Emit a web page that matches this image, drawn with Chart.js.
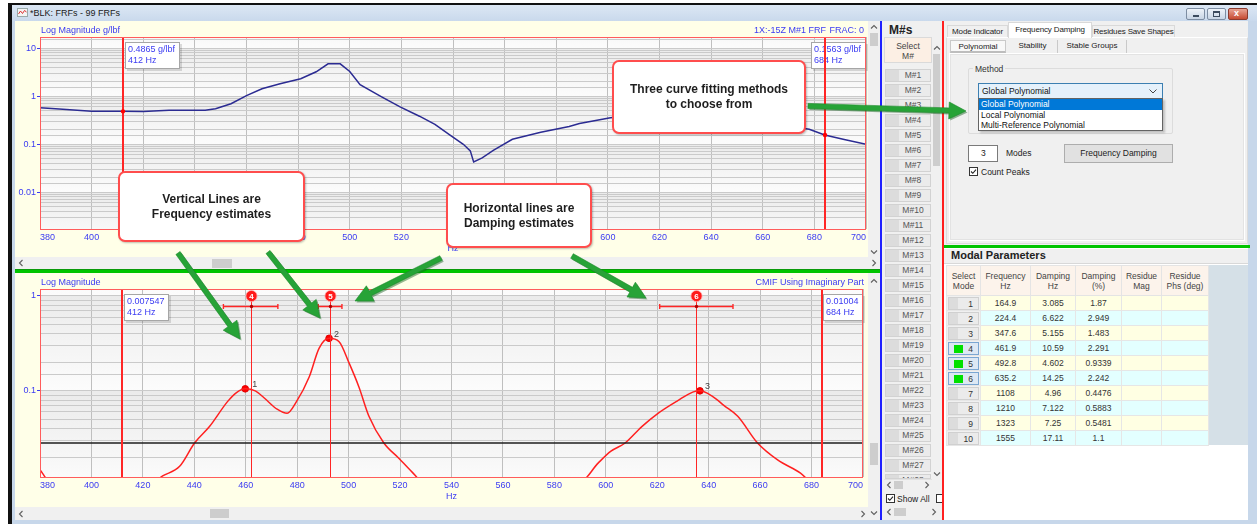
<!DOCTYPE html>
<html lang="en">
<head>
<meta charset="utf-8">
<title>*BLK: FRFs - 99 FRFs</title>
<script src="https://cdn.jsdelivr.net/npm/chart.js@4/dist/chart.umd.min.js"></script>
<style>
* { box-sizing: border-box; }
html, body { margin: 0; padding: 0; }
body { width: 1257px; height: 524px; overflow: hidden; position: relative; background: #fff;
  font-family: "Liberation Sans", Arial, sans-serif; font-size: 9px; color: #222; }
.abs { position: absolute; }
.chev { position: absolute; width: 8px; height: 8px; line-height: 0; }
.thumb { position: absolute; background: #cdcdcd; }
.sbar { position: absolute; background: #f0f0f0; }
.mbtn { position: absolute; left: 885px; width: 46px; height: 13px; border: 1px solid #d2d2d2;
  background: linear-gradient(to right, #dcdcdc 0, #dcdcdc 30%, #ebebeb 30%, #ebebeb 100%);
  color: #555; font-size: 8.5px; line-height: 11px; text-align: center; padding-left: 10px; }
.tab { position: absolute; top: 25px; height: 12px; font-size: 8px; line-height: 11px; color: #222; white-space: nowrap;
  border: 1px solid #d9d9d9; border-bottom: none; background: #f0f0f0; text-align: center; letter-spacing: -0.15px; }
.tab.sel { top: 22px; height: 16px; background: #fff; line-height: 14px; }
.sub { position: absolute; top: 40px; height: 13px; font-size: 8px; line-height: 12px; color: #222; text-align: center; white-space: nowrap; }
.callout { position: absolute; background: #fff; border: 2px solid #ff4d4d; border-radius: 7px;
  display: flex; align-items: center; justify-content: center; text-align: center;
  font: bold 12px "Liberation Sans", Arial, sans-serif; color: #1e1e1e; line-height: 15px;
  box-shadow: 1px 1px 2px rgba(0,0,0,0.25); z-index: 20; }
#modal { position: absolute; left: 946px; top: 265px; border-collapse: collapse; table-layout: fixed;
  font-size: 8.5px; color: #333; z-index: 2; }
#modal th { height: 30px; background: #fcf3eb; border: 1px solid #e4e4e4; font-weight: normal;
  color: #444; line-height: 10px; padding: 0; }
#modal td { height: 15px; border: 1px solid #e6e6e6; text-align: center; padding: 0; line-height: 13px; }
#modal tr.od td { background: #ffffe3; }
#modal tr.ev td { background: #e3ffff; }
#modal td.selc { background: #f0f0f0 !important; padding: 0 1px; }
.sb { position: relative; height: 13px; border: 1px solid #d0d0d0; text-align: right; padding-right: 5px;
  background: linear-gradient(to right, #dcdcdc 0, #dcdcdc 30%, #ebebeb 30%, #ebebeb 100%); }
.sb.on { border-color: #7aa6d2; background: #dde8f4; }
.sb i { position: absolute; left: 5px; top: 2px; width: 9px; height: 8px; background: #00e000; }
#arrows { position: absolute; left: 0; top: 0; z-index: 30; pointer-events: none; }
</style>
</head>
<body>

<!-- window frame and title bar -->
<div class="abs" style="left:8px;top:3px;width:4px;height:521px;background:#111"></div>
<div class="abs" style="left:8px;top:3px;width:1249px;height:2px;background:#111"></div>
<div class="abs" style="left:12px;top:5px;width:1245px;height:16px;background:linear-gradient(#dce7f4,#c9d9ec)"></div>
<div class="abs" id="winIcon" style="left:17px;top:8px"></div>
<div class="abs" style="left:30px;top:8px;font-size:9px;color:#1b1b1b">*BLK: FRFs - 99 FRFs</div>
<div class="abs" style="left:1186px;top:8px;width:19px;height:12px;border:1px solid #7d8da2;border-radius:2px;background:linear-gradient(#eef3f9,#c8d5e5)"><div class="abs" style="left:6px;top:6px;width:6px;height:2px;background:#3c4b5e"></div></div>
<div class="abs" style="left:1207px;top:8px;width:19px;height:12px;border:1px solid #7d8da2;border-radius:2px;background:linear-gradient(#eef3f9,#c8d5e5)"><div class="abs" style="left:5px;top:2px;width:7px;height:6px;border:1px solid #3c4b5e;border-top-width:2px"></div></div>
<div class="abs" style="left:1228px;top:8px;width:20px;height:12px;border:1px solid #8a3a2e;border-radius:2px;background:linear-gradient(#e9a393,#c64a32)"><div class="abs" style="left:5px;top:-1px;color:#fff;font:bold 9px Arial, sans-serif">x</div></div>
<div class="abs" style="left:12px;top:21px;width:3px;height:503px;background:#c7d7ea"></div>
<div class="abs" style="left:1248px;top:21px;width:9px;height:503px;background:#c7d7ea"></div>
<div class="abs" style="left:12px;top:520px;width:1245px;height:4px;background:#c7d7ea"></div>

<!-- upper graph: FRF -->
<div class="abs" style="left:15px;top:21px;width:853px;height:236px;background:#ffffe8">
  <canvas id="frfChart" width="853" height="236"></canvas>
</div>
<div class="sbar" style="left:15px;top:257px;width:853px;height:12px"></div>
<div class="thumb" style="left:212px;top:259px;width:20px;height:9px"></div>
<div class="chev" data-chev="left" style="left:17px;top:259px"></div>
<div class="sbar" style="left:868px;top:21px;width:12px;height:248px"></div>
<div class="thumb" style="left:870px;top:33px;width:8px;height:13px"></div>
<div class="chev" data-chev="up" style="left:870px;top:23px"></div>
<div class="chev" data-chev="down" style="left:870px;top:248px"></div>
<div class="chev" data-chev="right" style="left:870px;top:259px"></div>

<div class="abs" style="left:15px;top:269px;width:865px;height:4px;background:#00c400;border-top:1px solid #0a9a0a"></div>

<!-- lower graph: CMIF -->
<div class="abs" style="left:15px;top:273px;width:853px;height:234px;background:#ffffe8">
  <canvas id="cmifChart" width="853" height="234"></canvas>
</div>
<div class="sbar" style="left:15px;top:507px;width:853px;height:13px"></div>
<div class="thumb" style="left:210px;top:509px;width:19px;height:9px"></div>
<div class="chev" data-chev="left" style="left:17px;top:510px"></div>
<div class="chev" data-chev="right" style="left:859px;top:510px"></div>
<div class="sbar" style="left:868px;top:273px;width:12px;height:247px"></div>
<div class="thumb" style="left:870px;top:443px;width:8px;height:22px"></div>
<div class="chev" data-chev="up" style="left:870px;top:277px"></div>
<div class="chev" data-chev="down" style="left:870px;top:509px"></div>

<!-- M# list -->
<div class="abs" style="left:880px;top:21px;width:2px;height:499px;background:#2020ff"></div>
<div class="abs" style="left:882px;top:21px;width:60px;height:499px;background:#f0f0f0"></div>
<div class="abs" style="left:889px;top:23px;font:bold 12px 'Liberation Sans', Arial, sans-serif;color:#222">M#s</div>
<div class="abs" style="left:884px;top:37px;width:48px;height:26px;background:#fcefe4;border:1px solid #dadada;text-align:center;font-size:8.5px;line-height:10px;color:#444;padding-top:3px">Select<br>M#</div>
<div class="abs" style="left:932px;top:37px;width:9px;height:443px;background:#f0f0f0"></div>
<div class="thumb" style="left:933px;top:54px;width:7px;height:112px"></div>
<div class="chev" data-chev="up" style="left:933px;top:44px"></div>
<div class="chev" data-chev="down" style="left:933px;top:470px"></div>
<div id="mlist"></div>
<div class="abs" style="left:884px;top:479px;width:48px;height:12px;background:#f0f0f0;border-top:1px solid #e2e2e2"></div>
<div class="thumb" style="left:894px;top:481px;width:9px;height:8px"></div>
<div class="chev" data-chev="left" style="left:885px;top:481px"></div>
<div class="chev" data-chev="right" style="left:923px;top:481px"></div>
<div class="abs" id="cbShow" style="left:886px;top:494px"></div>
<div class="abs" style="left:897px;top:494px;font-size:8.5px;color:#222">Show All</div>
<div class="abs" style="left:936px;top:494px;width:6px;height:9px;border:1px solid #333;border-right:none;background:#fff"></div>
<div class="abs" style="left:884px;top:506px;width:56px;height:12px;background:#f0f0f0"></div>
<div class="thumb" style="left:894px;top:508px;width:12px;height:8px"></div>
<div class="chev" data-chev="left" style="left:885px;top:508px"></div>
<div class="chev" data-chev="right" style="left:930px;top:508px"></div>
<div class="abs" style="left:942px;top:21px;width:2px;height:499px;background:#ff2020"></div>

<!-- right panel: tabs and fitting controls -->
<div class="abs" style="left:944px;top:21px;width:304px;height:224px;background:#f0f0f0"></div>
<div class="abs" style="left:946px;top:37px;width:302px;height:207px;background:#f0f0f0;border:1px solid #dcdcdc;border-top-color:#fff"></div>
<div class="tab" style="left:947px;width:61px">Mode Indicator</div>
<div class="tab sel" style="left:1008px;width:84px">Frequency Damping</div>
<div class="tab" style="left:1092px;width:83px">Residues Save Shapes</div>
<div class="abs" style="left:949px;top:53px;width:296px;height:188px;background:#f0f0f0;border:1px solid #fff;box-shadow:inset 0 0 0 1px #e3e3e3"></div>
<div class="sub" style="left:950px;width:56px;background:#f8f8f8;border:1px solid #c9c9c9;border-bottom:2px solid #bdbdbd">Polynomial</div>
<div class="sub" style="left:1008px;width:50px;border-right:1px solid #c9c9c9">Stability</div>
<div class="sub" style="left:1058px;width:69px;border-right:1px solid #c9c9c9">Stable Groups</div>
<div class="abs" style="left:968px;top:68px;width:205px;height:66px;border:1px solid #dcdcdc;border-radius:2px"></div>
<div class="abs" style="left:973px;top:64px;padding:0 2px;background:#f0f0f0;font-size:8.5px;color:#333">Method</div>
<div class="abs" id="combo" style="left:978px;top:83px;width:185px;height:16px;background:#e5f1fb;border:1px solid #3c7fb1;font-size:8.5px;line-height:14px;padding-left:3px;color:#111"></div>
<div class="abs" id="methodList" style="left:978px;top:98px;width:185px;height:33px;background:#fff;border:1px solid #646464;font-size:8.5px;color:#111;box-shadow:2px 2px 2px rgba(0,0,0,0.2)"></div>
<div class="abs" style="left:968px;top:145px;width:30px;height:17px;background:#fff;border:1px solid #7a7a7a;font-size:8.5px;line-height:15px;padding-left:12px">3</div>
<div class="abs" style="left:1006px;top:148px;font-size:8.5px;color:#222">Modes</div>
<div class="abs" style="left:1064px;top:144px;width:109px;height:19px;background:#e1e1e1;border:1px solid #adadad;font-size:8.5px;line-height:17px;text-align:center;color:#222">Frequency Damping</div>
<div class="abs" id="cbPeaks" style="left:969px;top:167px"></div>
<div class="abs" style="left:981px;top:167px;font-size:8.5px;color:#222">Count Peaks</div>

<div class="abs" style="left:944px;top:245px;width:306px;height:3px;background:#00c400"></div>

<!-- modal parameters -->
<div class="abs" style="left:944px;top:248px;width:304px;height:272px;background:#fff"></div>
<div class="abs" style="left:944px;top:249px;width:304px;height:15px;background:#f0f0f0;border-bottom:1px solid #d8d8d8"></div>
<div class="abs" style="left:951px;top:249px;font:bold 11px 'Liberation Sans', Arial, sans-serif;color:#222">Modal Parameters</div>
<div class="abs" style="left:946px;top:265px;width:302px;height:180px;background:#d5e0e7"></div>
<table id="modal">
  <colgroup><col style="width:34px"><col style="width:50px"><col style="width:45px"><col style="width:46px"><col style="width:40px"><col style="width:47px"></colgroup>
  <thead><tr><th>Select<br>Mode</th><th>Frequency<br>Hz</th><th>Damping<br>Hz</th><th>Damping<br>(%)</th><th>Residue<br>Mag</th><th>Residue<br>Phs (deg)</th></tr></thead>
  <tbody id="modalBody"></tbody>
</table>

<!-- explanatory callouts -->
<div class="callout" style="left:612px;top:60px;width:194px;height:74px">Three curve fitting methods<br>to choose from</div>
<div class="callout" style="left:118px;top:171px;width:187px;height:71px">Vertical Lines are<br>Frequency estimates</div>
<div class="callout" style="left:446px;top:183px;width:146px;height:65px">Horizontal lines are<br>Damping estimates</div>
<svg id="arrows" width="1257" height="524" viewBox="0 0 1257 524"></svg>

<script>
// ---- FRF magnitude (upper graph), g/lbf ----
const frfHz  = [380, 386, 400, 412, 420, 430, 444, 448, 454, 460, 466, 473, 481, 487, 491.6, 496.3,
                500, 504, 512, 519.5, 527, 533, 539, 544, 546.7, 548, 551.3, 555.6, 563, 574, 585, 589,
                601, 612, 622, 630, 636, 642, 650, 660, 670, 678, 684, 692, 700];
const frfMag = [0.575, 0.55, 0.49, 0.4865, 0.48, 0.51, 0.51, 0.55, 0.70, 1.03, 1.44, 1.83, 2.32, 3.24, 4.75, 4.75,
                3.3, 1.75, 1.0, 0.60, 0.385, 0.26, 0.153, 0.1, 0.073, 0.043, 0.052, 0.075, 0.127, 0.178, 0.236, 0.27,
                0.357, 0.41, 0.46, 0.49, 0.48, 0.44, 0.36, 0.29, 0.24, 0.205, 0.1563, 0.125, 0.1];

// ---- CMIF using imaginary part (lower graph) ----
const cmifHz  = [380, 384, 424, 427.7, 434.3, 440.1, 445.9, 452.9, 456.4, 459.8, 463.7, 467.2, 472.2, 476.1,
                 479.6, 484.7, 488.5, 492.4, 496.3, 500.2, 504, 507.9, 513.7, 519.5, 524.6, 529, 590, 597, 602,
                 607.5, 614, 620.3, 628, 633.8, 636.6, 641.6, 646, 651.3, 659, 666.8, 675.7, 680, 700];
const cmifMag = [0.0147, 0.011, 0.011, 0.0127, 0.016, 0.0282, 0.042, 0.077, 0.096, 0.105, 0.1, 0.084, 0.064, 0.058,
                 0.076, 0.141, 0.281, 0.358, 0.33, 0.196, 0.11, 0.054, 0.0282, 0.0195, 0.014, 0.011, 0.011, 0.0173, 0.0231,
                 0.0282, 0.042, 0.058, 0.079, 0.097, 0.1, 0.087, 0.07, 0.054, 0.0282, 0.0187, 0.0136, 0.011, 0.011];
const peakHz  = [459.8, 492.4, 636.6];
const peakMag = [0.105, 0.358, 0.1];
const cmifThreshold = [0.0282, 0.0282];

// ---- cursors ----
const cursorHz = [412, 684];
const frfCursorMag  = [0.4865, 0.1563];
const cmifCursorMag = [0.007547, 0.01004];

// ---- axes ----
const hzRange = [380, 700];
const hzTicks = [380, 400, 420, 440, 460, 480, 500, 520, 540, 560, 580, 600, 620, 640, 660, 680, 700];
const frfRange = [0.00172, 17.2];
const frfTickValues = [10, 1, 0.1, 0.01];
const frfTickLabels = ['10', '1', '0.1', '0.01'];
const cmifRange = [0.01235, 1.185];
const cmifTickValues = [1, 0.1];
const cmifTickLabels = ['1', '0.1'];

// ---- modal parameters ----
const modeNo      = [1, 2, 3, 4, 5, 6, 7, 8, 9, 10];
const modeFreqHz  = [164.9, 224.4, 347.6, 461.9, 492.8, 635.2, 1108, 1210, 1323, 1555];
const modeDampHz  = [3.085, 6.622, 5.155, 10.59, 4.602, 14.25, 4.96, 7.122, 7.25, 17.11];
const modeDampPct = [1.87, 2.949, 1.483, 2.291, 0.9339, 2.242, 0.4476, 0.5883, 0.5481, 1.1];
const selectedModes = [4, 5, 6];
const fitMethods = ['Global Polynomial', 'Local Polynomial', 'Multi-Reference Polynomial'];
const shapeCount = 28;

const BLUE = '#3b3bf2';
const RED = '#ff2626';
const UI_FONT = '"Liberation Sans", Arial, sans-serif';

// ---------- small UI widgets ----------
function chev(dir) {
  const p = { up: '1,5.5 4,2.5 7,5.5', down: '1,2.5 4,5.5 7,2.5', left: '5.5,1 2.5,4 5.5,7', right: '2.5,1 5.5,4 2.5,7' }[dir];
  return `<svg width="8" height="8" viewBox="0 0 8 8"><polyline points="${p}" fill="none" stroke="#606060" stroke-width="1.1"/></svg>`;
}
document.querySelectorAll('[data-chev]').forEach(el => { el.innerHTML = chev(el.dataset.chev); });

function checkbox() {
  return '<svg width="9" height="9" viewBox="0 0 9 9"><rect x="0.5" y="0.5" width="8" height="8" fill="#fff" stroke="#333"/>' +
         '<polyline points="2,4.5 3.8,6.3 7,2.6" fill="none" stroke="#222" stroke-width="1.1"/></svg>';
}
document.getElementById('cbShow').innerHTML = checkbox();
document.getElementById('cbPeaks').innerHTML = checkbox();
document.getElementById('winIcon').innerHTML =
  '<svg width="11" height="9" viewBox="0 0 11 9"><rect x="0.5" y="0.5" width="10" height="8" fill="#f4f4f4" stroke="#9aa"/>' +
  '<polyline points="1.5,6 3.5,3 5.5,5.5 7.5,2.5 9.5,4" fill="none" stroke="#d33" stroke-width="1"/></svg>';

// M# shape buttons
const mlist = document.getElementById('mlist');
for (let i = 1; i <= shapeCount; i++) {
  const top = 69 + (i - 1) * 15;
  const b = document.createElement('div');
  b.className = 'mbtn';
  b.style.top = top + 'px';
  if (top + 13 > 479) { b.style.height = Math.max(0, 479 - top) + 'px'; b.style.overflow = 'hidden'; }
  b.textContent = 'M#' + i;
  mlist.appendChild(b);
}

// fitting method combo + open list
document.getElementById('combo').innerHTML = fitMethods[0] +
  '<svg style="position:absolute;right:5px;top:5px" width="8" height="5" viewBox="0 0 8 5"><polyline points="0.5,0.5 4,4 7.5,0.5" fill="none" stroke="#444"/></svg>';
document.getElementById('methodList').innerHTML = fitMethods.map((m, i) =>
  `<div style="height:10.5px;line-height:10px;padding-left:2px;${i === 0 ? 'background:#0078d7;color:#fff;' : ''}">${m}</div>`).join('');

// modal parameter rows
const tb = document.getElementById('modalBody');
modeNo.forEach((n, i) => {
  const tr = document.createElement('tr');
  tr.className = i % 2 ? 'ev' : 'od';
  const on = selectedModes.includes(n);
  tr.innerHTML = `<td class="selc"><div class="sb${on ? ' on' : ''}">${on ? '<i></i>' : ''}${n}</div></td>` +
    `<td>${modeFreqHz[i]}</td><td>${modeDampHz[i]}</td><td>${modeDampPct[i]}</td><td></td><td></td>`;
  tb.appendChild(tr);
});

// green pointer arrows
const arrows = [[808, 106, 966, 111], [178, 253, 240, 339], [268, 252, 320, 318], [441, 258, 355, 301], [572, 256, 646, 298]];
function arrowPath(x1, y1, x2, y2) {
  const dx = x2 - x1, dy = y2 - y1, L = Math.hypot(dx, dy), ux = dx / L, uy = dy / L, nx = -uy, ny = ux;
  const hl = 17, hw = 8.5, sw = 2.6;
  const bx = x2 - ux * hl, by = y2 - uy * hl;
  const pts = [[x1 + nx * sw, y1 + ny * sw], [bx + nx * sw, by + ny * sw], [bx + nx * hw, by + ny * hw], [x2, y2],
               [bx - nx * hw, by - ny * hw], [bx - nx * sw, by - ny * sw], [x1 - nx * sw, y1 - ny * sw]];
  return 'M' + pts.map(p => p[0].toFixed(1) + ',' + p[1].toFixed(1)).join('L') + 'Z';
}
document.getElementById('arrows').innerHTML = arrows.map(a => {
  const d = arrowPath(...a);
  return `<path d="${d}" fill="#145f1c" opacity="0.45" transform="translate(1.5,1.5)"/><path d="${d}" fill="#27a337" stroke="#1d8a2a" stroke-width="0.6"/>`;
}).join('');

// ---------- chart helpers ----------
function isTickValue(values, v) {
  return values.some(t => Math.abs(Math.log10(t) - Math.log10(v)) < 1e-6);
}
function tickLabel(values, labels) {
  return v => { const i = values.findIndex(t => Math.abs(Math.log10(t) - Math.log10(v)) < 1e-6); return i >= 0 ? labels[i] : ''; };
}
function pts(xs, ys) { return xs.map((x, i) => ({ x, y: ys[i] })); }

function axisOptions(yRange, tickValues, tickLabels, xHeight) {
  return {
    x: {
      type: 'linear', min: hzRange[0], max: hzRange[1],
      afterBuildTicks: s => { s.ticks = hzTicks.map(v => ({ value: v })); },
      ticks: { align: 'inner', color: BLUE, font: { family: UI_FONT, size: 9 }, padding: 3, maxRotation: 0, autoSkip: false },
      grid: { color: '#bfbfbf', lineWidth: 1, drawTicks: false },
      border: { display: false },
      afterFit: s => { s.height = xHeight; s.paddingLeft = 0; s.paddingRight = 0; }
    },
    y: {
      type: 'logarithmic', min: yRange[0], max: yRange[1],
      ticks: { callback: tickLabel(tickValues, tickLabels), autoSkip: false, color: BLUE, font: { family: UI_FONT, size: 9 }, padding: 1 },
      grid: { color: '#cacaca', lineWidth: 1, tickLength: 3,
              tickColor: c => (c.tick && isTickValue(tickValues, c.tick.value)) ? BLUE : 'rgba(0,0,0,0)' },
      border: { display: false },
      afterFit: s => { s.width = 25; s.paddingTop = 0; s.paddingBottom = 0; }
    }
  };
}

// shaded decade bands behind the grid
function drawBands(chart) {
  const { ctx, chartArea: a, scales: { y } } = chart;
  ctx.save();
  ctx.beginPath(); ctx.rect(a.left, a.top, a.width, a.height); ctx.clip();
  const lo = Math.floor(Math.log10(y.min)), hi = Math.ceil(Math.log10(y.max));
  for (let k = lo; k < hi; k++) {
    const yt = y.getPixelForValue(Math.pow(10, k + 1)), yb = y.getPixelForValue(Math.pow(10, k));
    const g = ctx.createLinearGradient(0, yt, 0, yb);
    g.addColorStop(0, '#ebebeb'); g.addColorStop(1, '#fcfcfc');
    ctx.fillStyle = g; ctx.fillRect(a.left, yt, a.width, yb - yt);
  }
  ctx.restore();
}

function drawFrame(chart, leftTitle, rightTitles) {
  const { ctx, chartArea: a } = chart;
  ctx.save();
  ctx.strokeStyle = '#ff5c5c'; ctx.lineWidth = 1;
  ctx.strokeRect(Math.round(a.left) + 0.5, Math.round(a.top) + 0.5, Math.round(a.width) - 1, Math.round(a.height));
  ctx.font = '9px ' + UI_FONT; ctx.fillStyle = BLUE; ctx.textBaseline = 'middle';
  ctx.textAlign = 'left'; ctx.fillText(leftTitle, a.left + 1, a.top - 6);
  ctx.textAlign = 'right';
  rightTitles.forEach(t => ctx.fillText(t[0], t[1], a.top - 6));
  ctx.textAlign = 'center'; ctx.fillText('Hz', (a.left + a.right) / 2, a.bottom + 20);
  ctx.restore();
}

function drawCursors(chart, mags, unit) {
  const { ctx, chartArea: a, scales: { x, y } } = chart;
  ctx.save();
  cursorHz.forEach((f, i) => {
    const px = Math.round(x.getPixelForValue(f));
    const l1 = String(mags[i]) + unit, l2 = f + ' Hz';
    ctx.font = '9px ' + UI_FONT;
    const w = Math.ceil(Math.max(ctx.measureText(l1).width, ctx.measureText(l2).width)) + 7;
    let bx = px + 2; if (bx + w > a.right) bx = Math.round(a.right - w);
    const by = Math.round(a.top) + 5, bh = 27;
    ctx.fillStyle = 'rgba(0,0,0,0.13)'; ctx.fillRect(bx + 2, by + 2, w, bh);
    ctx.fillStyle = '#fff'; ctx.fillRect(bx, by, w, bh);
    ctx.strokeStyle = '#a6a6a6'; ctx.lineWidth = 1; ctx.strokeRect(bx + 0.5, by + 0.5, w - 1, bh - 1);
    ctx.fillStyle = BLUE; ctx.textAlign = 'left'; ctx.textBaseline = 'middle';
    ctx.fillText(l1, bx + 3, by + 8); ctx.fillText(l2, bx + 3, by + 19);
    ctx.strokeStyle = RED; ctx.lineWidth = 2;
    ctx.beginPath(); ctx.moveTo(px, a.top); ctx.lineTo(px, a.bottom); ctx.stroke();
    const v = mags[i];
    if (v >= y.min && v <= y.max) {
      ctx.fillStyle = '#ff0000';
      ctx.beginPath(); ctx.arc(px, y.getPixelForValue(v), 2.2, 0, Math.PI * 2); ctx.fill();
    }
  });
  ctx.restore();
}

function drawModes(chart) {
  const { ctx, chartArea: a, scales: { x, y } } = chart;
  ctx.save();
  selectedModes.forEach(m => {
    const i = modeNo.indexOf(m);
    const f = modeFreqHz[i], d = modeDampHz[i];
    const px = Math.round(x.getPixelForValue(f)) + 0.5;
    const yc = a.top + 7, yb = Math.round(a.top + 17) + 0.5;
    ctx.strokeStyle = RED; ctx.lineWidth = 1;
    ctx.beginPath(); ctx.moveTo(px, yc); ctx.lineTo(px, a.bottom); ctx.stroke();
    const x1 = x.getPixelForValue(f - d), x2 = x.getPixelForValue(f + d);
    ctx.lineWidth = 1.4;
    ctx.beginPath();
    ctx.moveTo(x1, yb); ctx.lineTo(x2, yb);
    ctx.moveTo(x1, yb - 2.5); ctx.lineTo(x1, yb + 2.5);
    ctx.moveTo(x2, yb - 2.5); ctx.lineTo(x2, yb + 2.5);
    ctx.stroke();
    ctx.fillStyle = '#b00000';
    ctx.beginPath(); ctx.arc(px, yb, 1.7, 0, Math.PI * 2); ctx.fill();
    ctx.fillStyle = '#ff1a1a';
    ctx.beginPath(); ctx.arc(px, yc, 5.6, 0, Math.PI * 2); ctx.fill();
    ctx.strokeStyle = '#ffb0b0'; ctx.lineWidth = 0.8; ctx.stroke();
    ctx.fillStyle = '#fff'; ctx.font = 'bold 8px ' + UI_FONT; ctx.textAlign = 'center'; ctx.textBaseline = 'middle';
    ctx.fillText(String(m), px, yc + 0.5);
  });
  // peak numbering
  ctx.fillStyle = '#444'; ctx.font = '9px ' + UI_FONT; ctx.textAlign = 'left'; ctx.textBaseline = 'middle';
  peakHz.forEach((f, i) => {
    ctx.fillText(String(i + 1), x.getPixelForValue(f) + (i === 0 ? 7 : 5), y.getPixelForValue(peakMag[i]) - 4);
  });
  ctx.restore();
}

const common = {
  responsive: false, animation: false, events: [],
  layout: { padding: { left: 0, top: 16, right: 2, bottom: 0 } },
  plugins: { legend: { display: false }, tooltip: { enabled: false } }
};

// upper graph
new Chart(document.getElementById('frfChart'), {
  type: 'line',
  data: {
    datasets: [{
      data: pts(frfHz, frfMag), borderColor: '#2b2b92', borderWidth: 1.5, pointRadius: 0, tension: 0
    }]
  },
  options: Object.assign({}, common, { scales: axisOptions(frfRange, frfTickValues, frfTickLabels, 28) }),
  plugins: [{
    id: 'frfDecor',
    beforeDraw: drawBands,
    afterDatasetsDraw: c => drawCursors(c, frfCursorMag, ' g/lbf'),
    afterDraw: c => drawFrame(c, 'Log Magnitude g/lbf', [['FRAC: 0', 849], ['1X:-15Z M#1 FRF', 811]])
  }]
});

// lower graph
new Chart(document.getElementById('cmifChart'), {
  type: 'line',
  data: {
    datasets: [
      { data: pts(hzRange, cmifThreshold), borderColor: '#1e1e1e', borderWidth: 1.6, pointRadius: 0 },
      { data: pts(cmifHz, cmifMag), borderColor: '#ff2020', borderWidth: 1.5, pointRadius: 0, cubicInterpolationMode: 'monotone' },
      { data: pts(peakHz, peakMag), showLine: false, pointRadius: 3.3, pointBackgroundColor: '#ff0000', pointBorderColor: '#e00000', pointBorderWidth: 1 }
    ]
  },
  options: Object.assign({}, common, { scales: axisOptions(cmifRange, cmifTickValues, cmifTickLabels, 30) }),
  plugins: [{
    id: 'cmifDecor',
    beforeDraw: drawBands,
    afterDatasetsDraw: c => { drawModes(c); drawCursors(c, cmifCursorMag, ''); },
    afterDraw: c => drawFrame(c, 'Log Magnitude', [['CMIF Using Imaginary Part', 849]])
  }]
});
</script>
</body>
</html>
